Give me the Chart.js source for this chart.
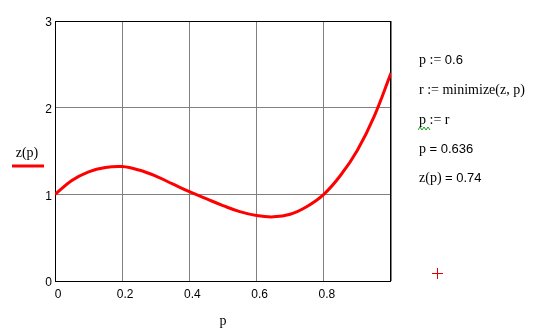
<!DOCTYPE html>
<html lang="en">
<head>
  <meta charset="UTF-8">
  <title>z(p)</title>
  <style>
    body { margin: 0; background: #fff; }
    #wrap { position: relative; width: 542px; height: 336px; }
    #myChart { position: absolute; left: 0; top: 0; }
    .line { position: absolute; left: 419px; font: 14px "Liberation Serif", serif; color: #000; white-space: nowrap; line-height: 16px; }
    .num { font: 13px "Liberation Sans", Arial, sans-serif; }
    .cross-h { position: absolute; left: 432px; top: 273px; width: 11px; height: 1px; background: #e00000; }
    .cross-v { position: absolute; left: 437px; top: 268px; width: 1px; height: 11px; background: #e00000; }
  </style>
</head>
<body>
  <div id="wrap">
    <canvas id="myChart" width="542" height="336"></canvas>
    <div class="line" style="top:52px">p := <span class="num">0.6</span></div>
    <div class="line" style="top:82px">r := minimize(z, p)</div>
    <div class="line" style="top:112px">p := r</div>
    <svg style="position:absolute;left:418px;top:126px" width="14" height="5">
      <polyline points="0,4 2,1 4,4 6,1 8,4 10,1 12,4" fill="none" stroke="#1a9a1a" stroke-width="1"/>
    </svg>
    <div class="line" style="top:141px">p <span class="num">= 0.636</span></div>
    <div class="line" style="top:170px">z(p) <span class="num">= 0.74</span></div>
    <div class="cross-h"></div>
    <div class="cross-v"></div>
  </div>

  <script src="https://cdn.jsdelivr.net/npm/chart.js@4/dist/chart.umd.min.js"></script>
  <script>
    // values
    const p_values = [0, 0.05, 0.1, 0.15, 0.2, 0.25, 0.3, 0.35, 0.4, 0.45, 0.5,
                      0.55, 0.6, 0.65, 0.7, 0.75, 0.8, 0.85, 0.9, 0.95, 1.0];
    const z_values = [1.00, 1.16, 1.26, 1.31, 1.32, 1.28, 1.21, 1.12, 1.03, 0.95, 0.87,
                      0.80, 0.755, 0.74, 0.77, 0.86, 1.00, 1.22, 1.51, 1.90, 2.40];
    const x_ticks = [0, 0.2, 0.4, 0.6, 0.8];
    const y_ticks = [0, 1, 2, 3];
    const series_label = 'z(p)';
    const x_title = 'p';

    const points = p_values.map((p, i) => ({ x: p, y: z_values[i] }));

    const tickFont = { family: '"Liberation Sans", Arial, sans-serif', size: 12 };

    // frame, y-side legend and x title
    const extras = {
      id: 'extras',
      beforeDatasetsDraw(chart) {
        const a = chart.chartArea;
        const ctx = chart.ctx;
        ctx.save();
        ctx.strokeStyle = '#000';
        ctx.lineWidth = 1;
        ctx.strokeRect(a.left + 0.5, a.top + 0.5, a.right - a.left - 1, a.bottom - a.top);
        ctx.restore();
      },
      afterDraw(chart) {
        const ctx = chart.ctx;
        ctx.save();
        ctx.fillStyle = '#000';
        ctx.font = '14px "Liberation Serif", serif';
        ctx.textAlign = 'center';
        ctx.textBaseline = 'middle';
        ctx.fillText(series_label, 27, 153);
        ctx.strokeStyle = '#ff0000';
        ctx.lineWidth = 3;
        ctx.beginPath();
        ctx.moveTo(12, 166);
        ctx.lineTo(44, 166);
        ctx.stroke();
        ctx.fillStyle = '#000';
        ctx.font = '14px "Liberation Serif", serif';
        ctx.fillText(x_title, (chart.chartArea.left + chart.chartArea.right) / 2, 321);
        ctx.restore();
      }
    };

    new Chart(document.getElementById('myChart'), {
      type: 'line',
      data: {
        datasets: [{
          label: series_label,
          data: points,
          borderColor: '#ff0000',
          borderWidth: 3,
          pointRadius: 0,
          fill: false,
          tension: 0.4
        }]
      },
      options: {
        responsive: false,
        animation: false,
        layout: { padding: { left: 0, top: 21, right: 151, bottom: 0 } },
        plugins: { legend: { display: false }, tooltip: { enabled: false } },
        scales: {
          x: {
            type: 'linear',
            min: 0,
            max: 1,
            afterFit(scale) { scale.height = 55; },
            afterBuildTicks(scale) { scale.ticks = x_ticks.concat([1]).map(v => ({ value: v })); },
            grid: { color: '#808080', lineWidth: 1, drawTicks: false },
            border: { display: false },
            ticks: {
              padding: 6,
              color: '#000',
              font: tickFont,
              maxRotation: 0,
              labelOffset: 3,
              callback: v => (x_ticks.includes(v) ? String(v) : '')
            }
          },
          y: {
            min: 0,
            max: 3,
            afterFit(scale) { scale.width = 55; },
            afterBuildTicks(scale) { scale.ticks = y_ticks.map(v => ({ value: v })); },
            grid: { color: '#808080', lineWidth: 1, drawTicks: false },
            border: { display: false },
            ticks: { padding: 3, color: '#000', font: tickFont, labelOffset: 2 }
          }
        }
      },
      plugins: [extras]
    });
  </script>
</body>
</html>
